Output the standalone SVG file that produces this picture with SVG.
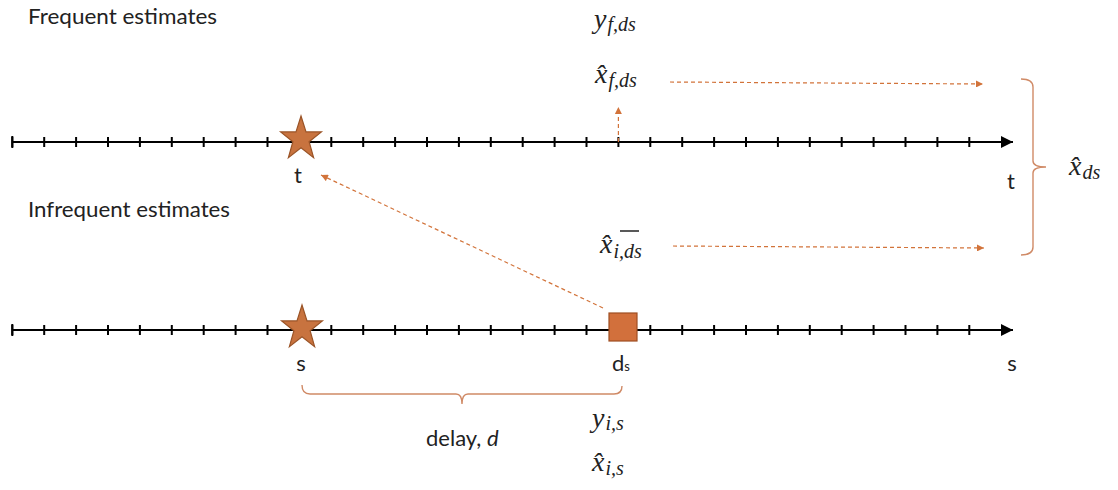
<svg xmlns="http://www.w3.org/2000/svg" width="1118" height="490" viewBox="0 0 1118 490">
  <defs>
    <style>
      .axis { stroke: #000; stroke-width: 2.2; fill: none; }
      .tick { stroke: #000; stroke-width: 2; }
      .dash { stroke: #D2733A; stroke-width: 1.2; stroke-dasharray: 4 3; fill: none; }
      .brace { stroke: #D08A66; stroke-width: 1.4; fill: none; }
      .lbl { font-family: Lato, "Open Sans", "Liberation Sans", sans-serif; font-size: 22px; fill: #222; }
      .math { font-family: "Liberation Serif", "Times New Roman", serif; font-style: italic; fill: #222; font-size: 28px; }
      .star { fill: #C8733F; stroke: #9A5326; stroke-width: 1.2; }
    </style>
    <marker id="ah" viewBox="0 0 10 10" refX="10" refY="5" markerWidth="15" markerHeight="12" markerUnits="userSpaceOnUse" orient="auto">
      <path d="M0,0 L10,5 L0,10 Z" fill="#000"/>
    </marker>
    <marker id="oh" viewBox="0 0 10 10" refX="10" refY="5" markerWidth="8" markerHeight="7" markerUnits="userSpaceOnUse" orient="auto">
      <path d="M0,0 L10,5 L0,10 Z" fill="#D2733A"/>
    </marker>
    <g id="ticks">
      <path class="tick" d="M12.3,-5v10M44.2,-5v10M76.1,-5v10M108,-5v10M139.9,-5v10M171.8,-5v10M203.7,-5v10M235.6,-5v10M267.5,-5v10M331.3,-5v10M363.2,-5v10M395.1,-5v10M427,-5v10M458.9,-5v10M490.8,-5v10M522.7,-5v10M554.6,-5v10M586.5,-5v10M618.4,-5v10M650.3,-5v10M682.2,-5v10M714.1,-5v10M746,-5v10M777.9,-5v10M809.8,-5v10M841.7,-5v10M873.6,-5v10M905.5,-5v10M937.4,-5v10M969.3,-5v10"/>
    </g>
    <polygon id="starshape" class="star" points="0,-23 5,-7.1 20.4,-7.1 8.1,2.7 12.6,18.6 0,8.8 -12.6,18.6 -8.1,2.7 -20.4,-7.1 -5,-7.1"/>
  </defs>
  <rect width="1118" height="490" fill="#fff"/>

  <text class="lbl" x="28" y="24" textLength="189" lengthAdjust="spacingAndGlyphs">Frequent estimates</text>
  <text class="lbl" x="28" y="217" textLength="202" lengthAdjust="spacingAndGlyphs">Infrequent estimates</text>

  <g id="axis-t">
    <line class="axis" x1="12" y1="142" x2="1013" y2="142" marker-end="url(#ah)"/>
    <use href="#ticks" y="142"/>
    <line class="tick" x1="12.3" y1="136" x2="12.3" y2="148"/>
    <text class="lbl" x="1011" y="189" text-anchor="middle">t</text>
  </g>
  <g id="axis-s">
    <line class="axis" x1="12" y1="330" x2="1013" y2="330" marker-end="url(#ah)"/>
    <use href="#ticks" y="330"/>
    <line class="tick" x1="12.3" y1="324" x2="12.3" y2="336"/>
    <text class="lbl" x="1012" y="371" text-anchor="middle">s</text>
  </g>

  <g id="star-t">
    <use href="#starshape" x="301" y="139"/>
    <text class="lbl" x="298" y="183" text-anchor="middle">t</text>
  </g>
  <g id="star-s">
    <use href="#starshape" x="302" y="328"/>
    <text class="lbl" x="301" y="371" text-anchor="middle">s</text>
  </g>
  <g id="square-ds">
    <rect x="609" y="313" width="28" height="28" fill="#D2703C" stroke="#9E4E22" stroke-width="1.2"/>
    <text class="lbl" x="612" y="371">d<tspan font-size="13">s</tspan></text>
  </g>

  <g id="label-yfds">
    <text class="math" x="594" y="28">y<tspan font-size="20" dy="3" dx="1">f,ds</tspan></text>
  </g>
  <g id="label-xfds">
    <text class="math" x="595" y="83">x̂<tspan font-size="20" dy="4" dx="1">f,ds</tspan></text>
  </g>
  <g id="label-xids">
    <text class="math" x="600" y="253">x̂<tspan font-size="20" dy="5" dx="1">i,ds</tspan></text>
    <line x1="620" y1="231" x2="639" y2="231" stroke="#222" stroke-width="1.5"/>
  </g>
  <g id="label-xds">
    <text class="math" x="1069" y="175">x̂<tspan font-size="20" dy="4" dx="1">ds</tspan></text>
  </g>
  <g id="label-yis">
    <text class="math" x="592" y="427">y<tspan font-size="20" dy="3" dx="1">i,s</tspan></text>
  </g>
  <g id="label-xis">
    <text class="math" x="592" y="471">x̂<tspan font-size="20" dy="4" dx="1">i,s</tspan></text>
  </g>
  <g id="label-delay">
    <text class="lbl" x="426" y="446">delay, <tspan font-style="italic">d</tspan></text>
  </g>

  <g id="connectors">
    <line class="dash" x1="670" y1="82" x2="983" y2="84" marker-end="url(#oh)"/>
    <line class="dash" x1="673" y1="246" x2="984" y2="248" marker-end="url(#oh)"/>
    <line class="dash" x1="618.4" y1="142" x2="618.4" y2="107" marker-end="url(#oh)"/>
    <line class="dash" x1="603" y1="308" x2="321" y2="175" marker-end="url(#oh)"/>
    <path class="brace" d="M1021,79 Q1033,79 1033,87 L1033,161 Q1033,167 1046,167 Q1033,167 1033,173 L1033,247 Q1033,255 1021,255"/>
    <path class="brace" d="M302,385 Q302,394 310,394 L456,394 Q462,394 462,404 Q462,394 468,394 L614,394 Q622,394 622,386"/>
  </g>
</svg>
